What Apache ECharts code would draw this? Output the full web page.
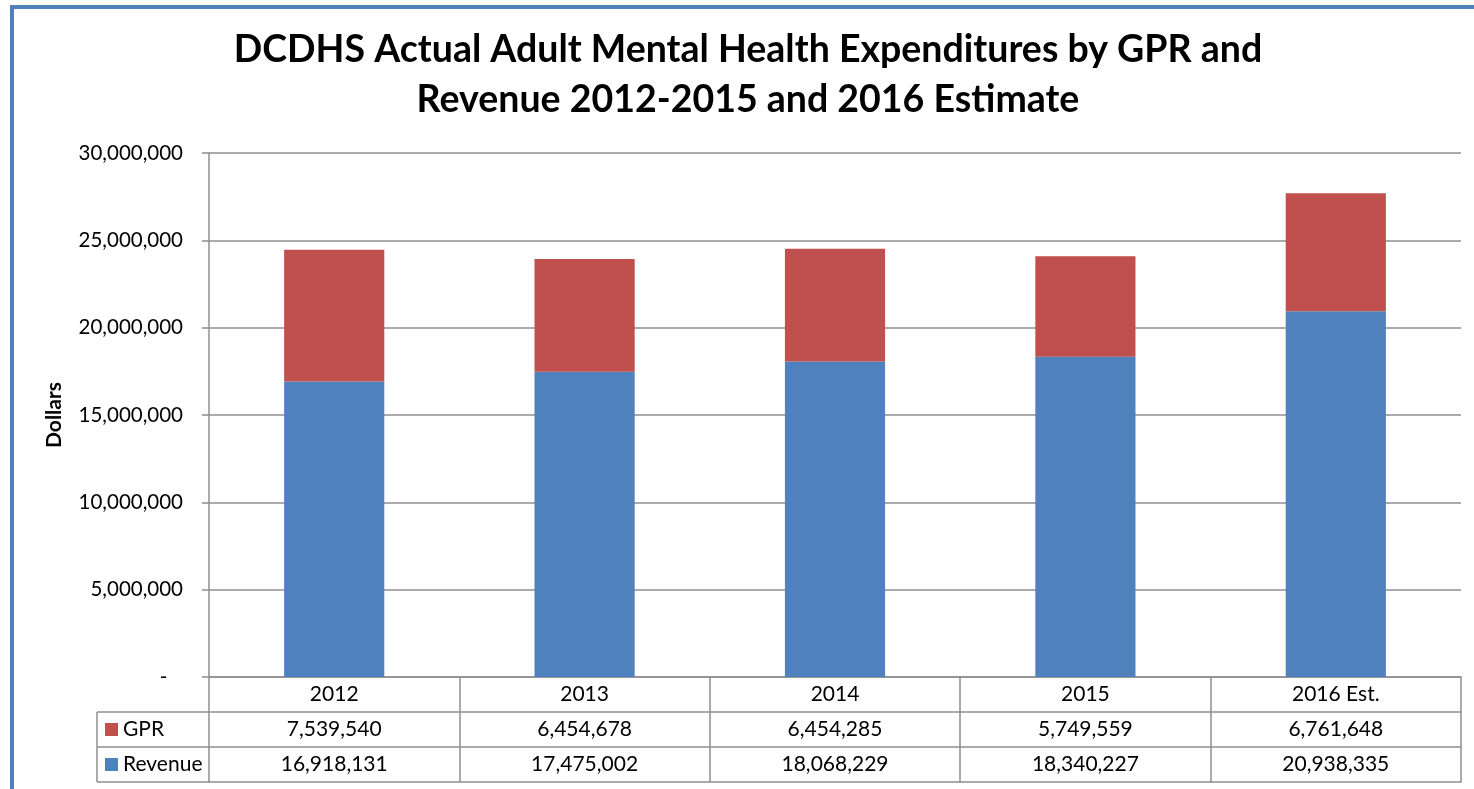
<!DOCTYPE html>
<html><head><meta charset="utf-8">
<script src="https://cdn.jsdelivr.net/npm/echarts@6/dist/echarts.min.js"></script>
<style>html,body{margin:0;padding:0;background:#fff}#c{width:1474px;height:789px}</style>
</head><body><div id="c"></div>
<script>
// ---- data ----
const categories = ['2012', '2013', '2014', '2015', '2016 Est.'];
const gprValues = [7539540, 6454678, 6454285, 5749559, 6761648];
const revenueValues = [16918131, 17475002, 18068229, 18340227, 20938335];
const seriesNames = ['GPR', 'Revenue'];
const titleText = 'DCDHS Actual Adult Mental Health Expenditures by GPR and\nRevenue 2012-2015 and 2016 Estimate';
const yAxisName = 'Dollars';
const yMin = 0, yMax = 30000000, yStep = 5000000;

// ---- styling ----
const FONT = 'Lato';
const LINE = '#8f8f8f';
const ROW = 35;
const fmt = v => Number(v).toLocaleString('en-US');
const blue = '#4F81BD', red = '#C0504D';

const labelStyle = {
  interval: 0, margin: ROW / 2, verticalAlign: 'middle',
  fontSize: 21, color: '#000', fontFamily: FONT
};
const axisLine = { show: true, lineStyle: { color: LINE, width: 1.5 } };

function tableAxis(data, offset, showLabel) {
  return {
    type: 'category', data: data, position: 'bottom', gridIndex: 0,
    offset: offset,
    axisLine: axisLine,
    axisTick: { show: false },
    axisLabel: Object.assign({ show: showLabel }, labelStyle),
    splitLine: { show: false }
  };
}

const chart = echarts.init(document.getElementById('c'), null, { renderer: 'canvas' });

const legendBase = {
  orient: 'vertical', left: 105, itemWidth: 13, itemHeight: 13, itemGap: 0,
  padding: 0, icon: 'rect', selectedMode: false,
  textStyle: { fontSize: 21, color: '#000', fontFamily: FONT, lineHeight: 22 }
};

const hx0 = 97, hx1 = 209, y0 = 677;
const lineShape = (x1, y1, x2, y2) => ({
  type: 'line', shape: { x1, y1, x2, y2 },
  style: { stroke: LINE, lineWidth: 1.5 }, silent: true
});

chart.setOption({
  animation: false,
  backgroundColor: '#fff',
  textStyle: { fontFamily: FONT },
  title: {
    text: titleText, left: 748, top: 25, textAlign: 'center', padding: 0,
    textStyle: { fontSize: 37.5, fontWeight: 'bold', color: '#000', fontFamily: FONT, lineHeight: 50 }
  },
  grid: { left: 209, right: 13, top: 153, bottom: 112, containLabel: false },
  legend: [
    Object.assign({ data: [seriesNames[0]], top: y0 + ROW + ROW / 2 - 11 }, legendBase),
    Object.assign({ data: [seriesNames[1]], top: y0 + 2 * ROW + ROW / 2 - 11 }, legendBase)
  ],
  xAxis: [
    {
      type: 'category', data: categories, position: 'bottom',
      axisLine: axisLine,
      axisTick: { show: true, length: 3 * ROW, lineStyle: { color: LINE, width: 1.5 } },
      axisLabel: labelStyle,
      splitLine: { show: false }
    },
    tableAxis(gprValues.map(fmt), ROW, true),
    tableAxis(revenueValues.map(fmt), 2 * ROW, true),
    tableAxis(categories, 3 * ROW, false)
  ],
  yAxis: {
    type: 'value', min: yMin, max: yMax, interval: yStep,
    name: yAxisName, nameLocation: 'middle', nameGap: 144, nameRotate: 90,
    nameTextStyle: { fontSize: 21, fontWeight: 'bold', color: '#000', fontFamily: FONT },
    axisLine: axisLine,
    axisTick: { show: true, length: 7, lineStyle: { color: LINE, width: 1.5 } },
    axisLabel: {
      margin: 26, fontSize: 20.5, color: '#000', fontFamily: FONT,
      formatter: v => v === 0 ? '-   ' : fmt(v)
    },
    splitLine: { show: true, lineStyle: { color: LINE, width: 1.5 } }
  },
  series: [
    {
      name: seriesNames[1], type: 'bar', stack: 'total', data: revenueValues,
      barWidth: '40%', itemStyle: { color: blue }
    },
    {
      name: seriesNames[0], type: 'bar', stack: 'total', data: gprValues,
      barWidth: '40%', itemStyle: { color: red }
    }
  ],
  graphic: [
    {
      type: 'rect', shape: { x: 12, y: 7, width: 1600, height: 900 },
      style: { fill: 'none', stroke: blue, lineWidth: 4 }, silent: true
    },
    lineShape(hx0, y0 + ROW, hx0, y0 + 3 * ROW),
    lineShape(hx0, y0 + ROW, hx1, y0 + ROW),
    lineShape(hx0, y0 + 2 * ROW, hx1, y0 + 2 * ROW),
    lineShape(hx0, y0 + 3 * ROW, hx1, y0 + 3 * ROW)
  ]
});
</script>
</body></html>
